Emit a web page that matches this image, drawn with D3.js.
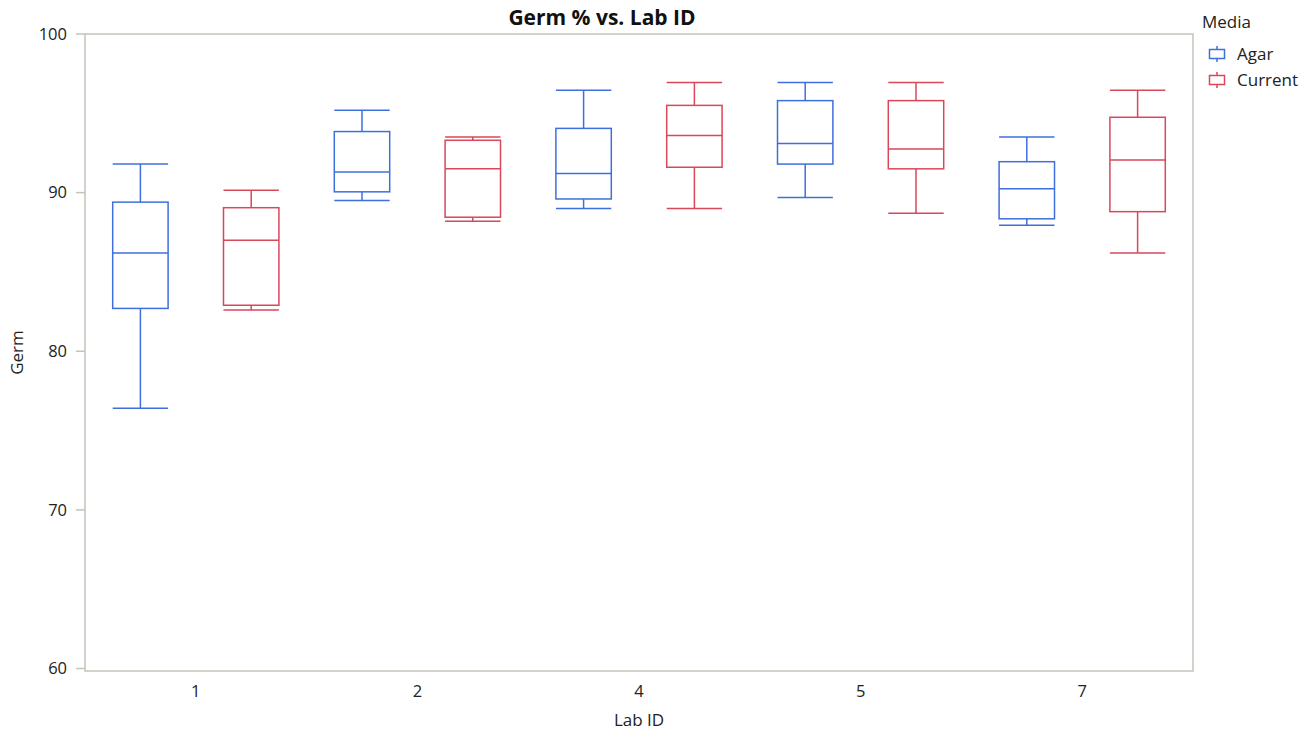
<!DOCTYPE html>
<html>
<head>
  <meta charset="UTF-8">
  <title>Germ % vs. Lab ID</title>
  <script src="https://d3js.org/d3.v7.min.js"></script>
  <style>
    body { margin: 0; background: #fff; font-family: "Open Sans", "Noto Sans", sans-serif; }
    .frame { fill: none; stroke: #c4c4ba; stroke-width: 1.5; }
    .tick-label { font-size: 16.5px; fill: #222; }
  </style>
</head>
<body>
  <svg id="chart" width="1314" height="732"></svg>
  <script>
    const labs = ["1", "2", "4", "5", "7"];
    const media = ["Agar", "Current"];
    const colors = ["#3f6fdc", "#d8475a"];
    const yTicks = [60, 70, 80, 90, 100];

    // [lower whisker, Q1, median, Q3, upper whisker] per lab
    const agar = [
      [76.4, 82.7, 86.2, 89.4, 91.8],
      [89.5, 90.05, 91.3, 93.85, 95.2],
      [89.0, 89.6, 91.2, 94.05, 96.45],
      [89.7, 91.8, 93.1, 95.8, 96.95],
      [87.95, 88.35, 90.25, 91.95, 93.5]
    ];
    const current = [
      [82.6, 82.9, 87.0, 89.05, 90.15],
      [88.2, 88.45, 91.5, 93.3, 93.5],
      [89.0, 91.6, 93.6, 95.5, 96.95],
      [88.7, 91.5, 92.75, 95.8, 96.95],
      [86.2, 88.8, 92.05, 94.75, 96.45]
    ];

    const margin = { top: 34, right: 121, bottom: 61, left: 85 };
    const W = 1314, H = 732;
    const width = W - margin.left - margin.right;
    const height = H - margin.top - margin.bottom;

    const svg = d3.select("#chart");
    const g = svg.append("g").attr("transform", `translate(${margin.left},${margin.top})`);

    const x = d3.scaleBand().domain(labs).range([0, width]).padding(0);
    const sub = d3.scaleBand().domain(media).range([0, x.bandwidth()]).paddingInner(1).paddingOuter(0.5);
    const y = d3.scaleLinear().domain([60, 100]).range([height - 2.5, 0]);

    const boxW = x.bandwidth() / 4;

    g.append("rect").attr("class", "frame")
      .attr("x", 0).attr("y", 0).attr("width", width).attr("height", height);

    // y axis ticks
    yTicks.forEach(t => {
      g.append("line").attr("x1", -9).attr("x2", 0)
        .attr("y1", y(t)).attr("y2", y(t))
        .attr("stroke", "#c4c4ba").attr("stroke-width", 1.5);
      g.append("text").attr("class", "tick-label")
        .attr("x", -18).attr("y", y(t)).attr("dy", "0.35em")
        .attr("text-anchor", "end").text(t);
    });

    labs.forEach(l => {
      g.append("text").attr("class", "tick-label")
        .attr("x", x(l) + x.bandwidth() / 2).attr("y", height + 26)
        .attr("text-anchor", "middle").text(l);
    });

    const series = [agar, current];
    media.forEach((m, mi) => {
      series[mi].forEach((d, i) => {
        const cx = x(labs[i]) + sub(m);
        const bg = g.append("g").attr("stroke", colors[mi]).attr("stroke-width", 1.5).attr("fill", "none");
        const [lo, q1, med, q3, hi] = d;
        bg.append("line").attr("x1", cx).attr("x2", cx).attr("y1", y(hi)).attr("y2", y(q3));
        bg.append("line").attr("x1", cx).attr("x2", cx).attr("y1", y(q1)).attr("y2", y(lo));
        bg.append("line").attr("x1", cx - boxW / 2).attr("x2", cx + boxW / 2).attr("y1", y(hi)).attr("y2", y(hi));
        bg.append("line").attr("x1", cx - boxW / 2).attr("x2", cx + boxW / 2).attr("y1", y(lo)).attr("y2", y(lo));
        bg.append("rect").attr("x", cx - boxW / 2).attr("width", boxW)
          .attr("y", y(q3)).attr("height", y(q1) - y(q3)).attr("fill", "#fff");
        bg.append("line").attr("x1", cx - boxW / 2).attr("x2", cx + boxW / 2).attr("y1", y(med)).attr("y2", y(med));
      });
    });

    // titles
    svg.append("text").attr("x", 602).attr("y", 25)
      .attr("text-anchor", "middle").attr("font-size", 21).attr("font-weight", "bold")
      .attr("fill", "#111").text("Germ % vs. Lab ID");
    svg.append("text").attr("x", margin.left + width / 2).attr("y", 726)
      .attr("text-anchor", "middle").attr("font-size", 17).attr("fill", "#222").text("Lab ID");
    svg.append("text").attr("transform", `translate(23,${margin.top + height / 2}) rotate(-90)`)
      .attr("text-anchor", "middle").attr("font-size", 17).attr("fill", "#222").text("Germ");

    // legend
    const lg = svg.append("g").attr("transform", "translate(1202,0)");
    lg.append("text").attr("x", 0).attr("y", 28).attr("font-size", 17).attr("fill", "#222").text("Media");
    media.forEach((m, i) => {
      const cy = 54 + i * 26;
      const it = lg.append("g").attr("stroke", colors[i]).attr("stroke-width", 1.5).attr("fill", "none");
      it.append("line").attr("x1", 15).attr("x2", 15).attr("y1", cy - 8).attr("y2", cy + 8);
      it.append("rect").attr("x", 7.5).attr("y", cy - 4.5).attr("width", 15).attr("height", 9).attr("fill", "#fff");
      lg.append("text").attr("x", 35).attr("y", cy).attr("dy", "0.35em")
        .attr("font-size", 17).attr("fill", "#222").text(m);
    });
  </script>
</body>
</html>
